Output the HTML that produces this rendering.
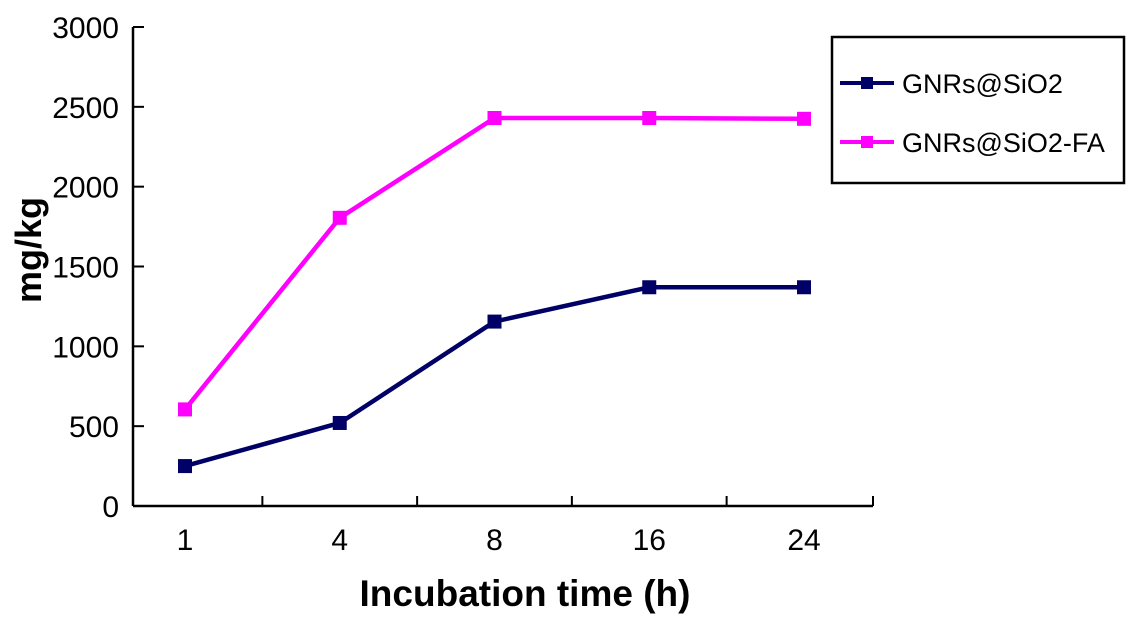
<!DOCTYPE html>
<html><head><meta charset="utf-8"><style>
html,body{margin:0;padding:0;background:#fff;}
svg{display:block;}
.tick{font-family:"Liberation Sans",sans-serif;font-size:30px;fill:#000;}
.leg{font-family:"Liberation Sans",sans-serif;font-size:27px;fill:#000;}
.title{font-family:"Liberation Sans",sans-serif;font-size:37px;font-weight:bold;fill:#000;}
</style></head><body>
<svg id="chart" width="1135" height="627" viewBox="0 0 1135 627">
<g id="axes"></g><g id="series"></g>
<rect x="832" y="37" width="292" height="146" fill="none" stroke="#000" stroke-width="2.5"/>
<g>
<line x1="840" y1="83" x2="894" y2="83" stroke="#000066" stroke-width="4"/>
<rect x="861" y="77" width="12" height="12" fill="#000066"/>
<text class="leg" x="902" y="93">GNRs@SiO2</text></g>
<g>
<line x1="840" y1="142" x2="894" y2="142" stroke="#ff00ff" stroke-width="4"/>
<rect x="861" y="136" width="12" height="12" fill="#ff00ff"/>
<text class="leg" x="902" y="152">GNRs@SiO2-FA</text></g>
<text class="title" x="525" y="606" text-anchor="middle">Incubation time (h)</text>
<text class="title" style="font-size:36px" transform="translate(41,250) rotate(-90)" text-anchor="middle">mg/kg</text>
</svg>
<script>
const categories = ["1","4","8","16","24"];
const seriesSiO2 = [250, 520, 1155, 1370, 1370];
const seriesSiO2FA = [605, 1805, 2430, 2430, 2425];
const yTicks = [0,500,1000,1500,2000,2500,3000];

const NS="http://www.w3.org/2000/svg";
const x0=133,x1=873,y0=506,y1=27,yMax=3000;
const bandW=154.75, firstX=185;
const xPos=i=>firstX+bandW*i;
const yPos=v=>y0-(v/yMax)*(y0-y1);
function mk(tag,attrs,parent){const e=document.createElementNS(NS,tag);for(const k in attrs)e.setAttribute(k,attrs[k]);parent.appendChild(e);return e;}
const axes=document.getElementById('axes');
let yl=mk('line',{x1:x0,y1:y1,x2:x0,y2:y0,stroke:'#000','stroke-width':2.5},axes);


let xl=mk('line',{x1:x0,y1:y0,x2:x1,y2:y0,stroke:'#000','stroke-width':2.5},axes);


yTicks.forEach(v=>{
  const y=yPos(v);
  mk('line',{x1:x0,y1:y,x2:x0+11,y2:y,stroke:'#000','stroke-width':2},axes);
  const t=mk('text',{x:119,y:y+11,'text-anchor':'end',class:'tick'},axes);
  t.textContent=v;
  
  
});
categories.forEach((c,i)=>{
  const t=mk('text',{x:xPos(i),y:550,'text-anchor':'middle',class:'tick'},axes);
  t.textContent=c;
  
  
  const tx=i<categories.length-1?xPos(i)+bandW/2:x1;
  mk('line',{x1:tx,y1:y0,x2:tx,y2:y0-10,stroke:'#000','stroke-width':2},axes);
});
const sg=document.getElementById('series');
function drawSeries(vals,color,name){
  const g=mk('g',{},sg);
  
  
  mk('polyline',{points:vals.map((v,i)=>xPos(i)+','+yPos(v)).join(' '),fill:'none',stroke:color,'stroke-width':4.5},g);
  vals.forEach((v,i)=>{
    const r=mk('rect',{x:xPos(i)-7,y:yPos(v)-7,width:14,height:14,fill:color},g);
    
    
  });
}
drawSeries(seriesSiO2FA,'#ff00ff','series-gnrs-sio2-fa');
drawSeries(seriesSiO2,'#000066','series-gnrs-sio2');
</script>
</body></html>
